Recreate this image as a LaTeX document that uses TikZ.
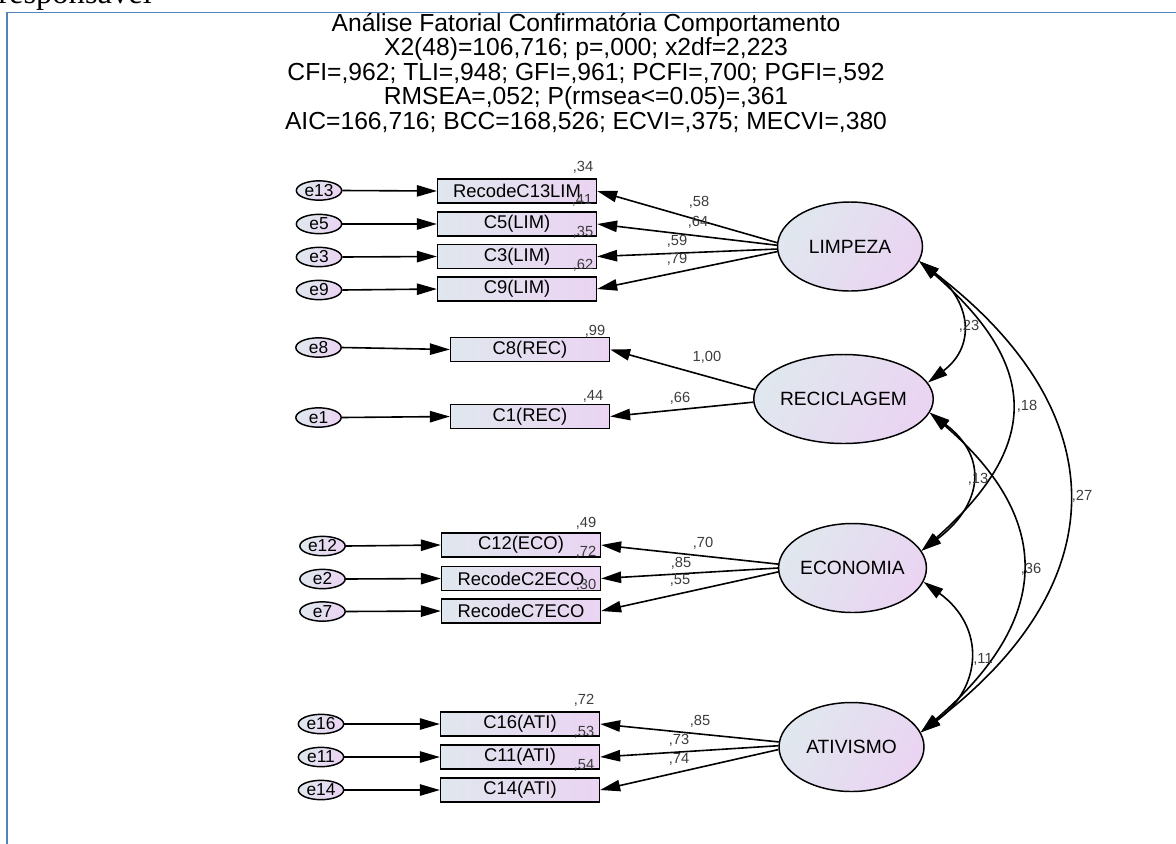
\documentclass[tikz,border=0pt]{standalone}
\usepackage{fontspec}
\setmainfont{Liberation Sans}
\newfontfamily\bodyserif{Liberation Serif}
\usetikzlibrary{arrows.meta,shapes.geometric}

\definecolor{frameblue}{RGB}{84,130,190}
\definecolor{shadeL}{RGB}{224,231,238}
\definecolor{shadeR}{RGB}{234,212,242}
\definecolor{numgray}{RGB}{60,60,60}

\tikzset{
  boxfill/.style={left color=shadeL, right color=shadeR},
  ovalfill/.style={left color=shadeL, right color=shadeR, shading angle=60},
  obs/.style={rectangle, draw, line width=1.2pt, boxfill,
    minimum width=119pt, minimum height=18pt, inner sep=0pt,
    font=\fontsize{13.8pt}{15pt}\selectfont},
  err/.style={ellipse, draw, line width=1.1pt, ovalfill,
    minimum width=34pt, minimum height=14.5pt, inner sep=0pt,
    font=\fontsize{13pt}{14pt}\selectfont},
  lat/.style={ellipse, draw, line width=1.1pt, ovalfill,
    minimum width=108.75pt, minimum height=66.75pt, inner sep=0pt,
    font=\fontsize{14.4pt}{16pt}\selectfont},
  load/.style={line width=1.2pt, -{Triangle[length=15pt, width=8.5pt]}},
  covar/.style={line width=1.2pt, {Triangle[length=15pt, width=8.5pt]}-{Triangle[length=15pt, width=8.5pt]}},
  num/.style={inner sep=0pt, text=numgray, font=\fontsize{11pt}{12pt}\selectfont},
  headline/.style={anchor=base, inner sep=0pt, font=\fontsize{18.5pt}{22pt}\selectfont},
}

\begin{document}
\begin{tikzpicture}[x=0.75pt, y=-0.75pt]
\useasboundingbox (0,0) rectangle (1176,843);
\clip (0,0) rectangle (1176,843);

% text of the page above the frame
\node[anchor=base west, inner sep=0pt, font=\bodyserif\fontsize{24.4pt}{28pt}\selectfont] (pagetext) at (-2,3.5) {responsável};

% frame
\coordinate (frTL) at (7,12.5);
\coordinate (frTR) at (1180,12.5);
\coordinate (frBL) at (7,850);
\draw[frameblue, line width=1.1pt] (frTR) -- (frTL) -- (frBL);

% heading (baselines)
\node[headline] (t1) at (586,31) {Análise Fatorial Confirmatória Comportamento};
\node[headline] (t2) at (586,55.5) {X2(48)=106,716; p=,000; x2df=2,223};
\node[headline] (t3) at (586,80) {CFI=,962; TLI=,948; GFI=,961; PCFI=,700; PGFI=,592};
\node[headline] (t4) at (586,104.5) {RMSEA=,052; P(rmsea<=0.05)=,361};
\node[headline] (t5) at (586,129) {AIC=166,716; BCC=168,526; ECVI=,375; MECVI=,380};

% latent factors
\node[lat] (LIM) at (850,246.5) {LIMPEZA};
\node[lat] (REC) at (843.5,399) {RECICLAGEM};
\node[lat] (ECO) at (852.5,568) {ECONOMIA};
\node[lat] (ATI) at (851.5,747) {ATIVISMO};

% observed indicators
\node[obs] (v13) at (517,191) {RecodeC13LIM};
\node[obs] (v5) at (517,224) {C5(LIM)};
\node[obs] (v3) at (517,256.5) {C3(LIM)};
\node[obs] (v9) at (517,289) {C9(LIM)};
\node[obs] (v8) at (530,349.5) {C8(REC)};
\node[obs] (v1) at (530,416.5) {C1(REC)};
\node[obs] (v12) at (521,545) {C12(ECO)};
\node[obs] (v2) at (521,578.5) {RecodeC2ECO};
\node[obs] (v7) at (521,611) {RecodeC7ECO};
\node[obs] (v16) at (520,724) {C16(ATI)};
\node[obs] (v11) at (520,757) {C11(ATI)};
\node[obs] (v14) at (520,790) {C14(ATI)};

% error terms
\node[err] (e13) at (319,190.5) {e13};
\node[err] (e5) at (319,224) {e5};
\node[err] (e3) at (319,257) {e3};
\node[err] (e9) at (319,290) {e9};
\node[err] (e8) at (318.5,347.5) {e8};
\node[err] (e1) at (318.5,417.5) {e1};
\node[err] (e12) at (322.5,546) {e12};
\node[err] (e2) at (322.5,579) {e2};
\node[err] (e7) at (322.5,611.5) {e7};
\node[err] (e16) at (321,724) {e16};
\node[err] (e11) at (321,757) {e11};
\node[err] (e14) at (321,790) {e14};

% error paths
\foreach \e/\v in {e13/v13, e5/v5, e3/v3, e9/v9, e8/v8, e1/v1, e12/v12, e2/v2, e7/v7, e16/v16, e11/v11, e14/v14}
  \draw[load] (\e.east) -- (\v.west);

% factor loadings
\draw[load] (LIM.177) -- (v13.east);
\draw[load] (LIM.179) -- (v5.east);
\draw[load] (LIM.182) -- (v3.east);
\draw[load] (LIM.184) -- (v9.east);
\draw[load] (REC.174) -- (v8.east);
\draw[load] (REC.182) -- (v1.east);
\draw[load] (ECO.177) -- (v12.east);
\draw[load] (ECO.180) -- (v2.east);
\draw[load] (ECO.183) -- (v7.east);
\draw[load] (ATI.176) -- (v16.east);
\draw[load] (ATI.179) -- (v11.east);
\draw[load] (ATI.182) -- (v14.east);

% factor covariances
\draw[covar] (LIM.-12) .. controls +(50,38) and +(50,-38) .. (REC.11);
\draw[covar] (LIM.-12) .. controls +(115,100) and +(125,-110) .. (ECO.14);
\draw[covar] (LIM.-12) .. controls +(197,150) and +(197,-150) .. (ATI.12);
\draw[covar] (REC.-9) .. controls +(60,45) and +(60,-45) .. (ECO.14);
\draw[covar] (REC.-9) .. controls +(128,110) and +(128,-110) .. (ATI.12);
\draw[covar] (ECO.-11) .. controls +(62,45) and +(62,-45) .. (ATI.12);

% squared multiple correlations
\node[num] (r13) at (583,167) {,34};
\node[num] (r5) at (582,200) {,41};
\node[num] (r3) at (583,232) {,35};
\node[num] (r9) at (583,265) {,62};
\node[num] (r8) at (595,331) {,99};
\node[num] (r1) at (593,396) {,44};
\node[num] (r12) at (586,523) {,49};
\node[num] (r2) at (586,552) {,72};
\node[num] (r7) at (586,585) {,30};
\node[num] (r16) at (584,700) {,72};
\node[num] (r11) at (584,732) {,53};
\node[num] (r14) at (584,765) {,54};

% loading estimates
\node[num] (l13) at (699,202) {,58};
\node[num] (l5) at (698,222) {,64};
\node[num] (l3) at (677,241) {,59};
\node[num] (l9) at (677,259) {,79};
\node[num] (l8) at (707,357) {1,00};
\node[num] (l1) at (680,398) {,66};
\node[num] (l12) at (703,543) {,70};
\node[num] (l2) at (681,563) {,85};
\node[num] (l7) at (680,580) {,55};
\node[num] (l16) at (700,721) {,85};
\node[num] (l11) at (679,740) {,73};
\node[num] (l14) at (679,759) {,74};

% covariance estimates
\node[num] (cLR) at (969,326) {,23};
\node[num] (cLE) at (1027,406) {,18};
\node[num] (cRE) at (978,479) {,13};
\node[num] (cRA) at (1031,569) {,36};
\node[num] (cLA) at (1082,496) {,27};
\node[num] (cEA) at (983,659) {,11};
\end{tikzpicture}
\end{document}
